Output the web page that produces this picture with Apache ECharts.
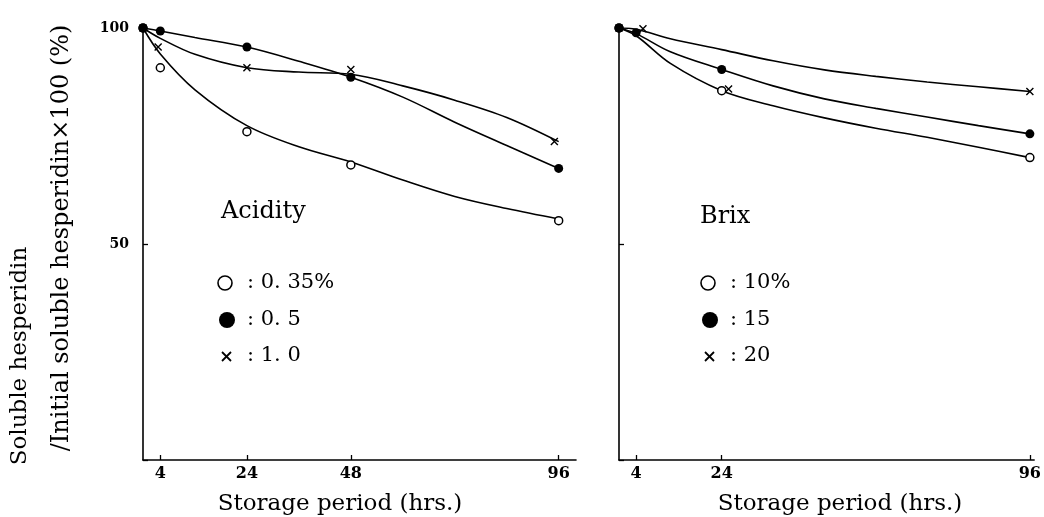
<!DOCTYPE html>
<html>
<head>
<meta charset="utf-8">
<script src="https://cdn.jsdelivr.net/npm/echarts@6/dist/echarts.min.js"></script>
<style>html,body{margin:0;padding:0;background:#fff}#c{width:1044px;height:517px}</style>
</head>
<body>
<div id="c"></div>
<script>
// ---------- data ----------
const curveHours = [0, 4, 12, 24, 36, 48, 60, 72, 84, 96];
// Acidity panel – fitted curves
const acid035Curve = [100, 94.0, 85.7, 77.4, 72.5, 69.0, 64.8, 61.0, 58.2, 55.8];
const acid05Curve  = [100, 99.3, 97.8, 95.6, 92.3, 88.6, 84.0, 78.2, 72.8, 67.5];
const acid10Curve  = [100, 97.6, 93.9, 90.8, 89.8, 89.3, 86.6, 83.3, 79.3, 73.7];
// Acidity panel – measured points
const acidHours  = [0, 4, 24, 48, 96];
const acid035Pts = [100, 90.8, 76.0, 68.3, 55.4];
const acid05Pts  = [100, 99.3, 95.6, 88.6, 67.5];
const acid10Hours = [0, 3.5, 24, 48, 95];
const acid10Pts  = [100, 95.6, 90.8, 90.4, 73.7];
// Brix panel – fitted curves
const brix10Curve = [100, 98.2, 91.8, 85.5, 82.0, 79.2, 76.8, 74.7, 72.4, 70.0];
const brix15Curve = [100, 98.7, 94.5, 90.4, 86.6, 83.6, 81.4, 79.4, 77.4, 75.5];
const brix20Curve = [100, 99.7, 97.5, 95.0, 92.4, 90.3, 88.8, 87.5, 86.4, 85.3];
// Brix panel – measured points
const brix10Hours = [0, 4.4, 24, 96];
const brix10Pts   = [100, 100.2, 85.5, 70.0];
const brix15Hours = [0, 4, 24, 96];
const brix15Pts   = [100, 98.9, 90.4, 75.5];
const brix20Hours = [0, 5.6, 25.6, 96];
const brix20Pts   = [100, 99.8, 85.9, 85.3];
// axis ticks
const acidTicks = [4, 24, 48, 96];
const brixTicks = [4, 24, 96];
const yTicks = [0, 50, 100];
// texts
const xTitle = 'Storage period (hrs.)';
const yTitle1 = 'Soluble hesperidin';
const yTitle2 = '/Initial soluble hesperidin\u00d7100 (%)';
const acidLegend = [': 0. 35%', ': 0. 5', ': 1. 0'];
const brixLegend = [': 10%', ': 15', ': 20'];

// ---------- chart ----------
const SERIF = '"DejaVu Serif", "Liberation Serif", serif';
const pair = (xs, ys) => xs.map((x, i) => [x, ys[i]]);
const CROSS = 'path://M0,0L10,10M0,10L10,0';

function xAxis(idx, max, ticks) {
  return {
    type: 'value', gridIndex: idx, min: 0, max: max,
    axisLine: { show: true, onZero: false, lineStyle: { color: '#000', width: 1.6 } },
    axisTick: { show: true, inside: true, length: 5, customValues: ticks, lineStyle: { color: '#000', width: 1.3 } },
    axisLabel: { show: true, customValues: ticks, margin: 6, color: '#000', fontFamily: SERIF, fontWeight: 'bold', fontSize: 16 },
    splitLine: { show: false }
  };
}
function yAxis(idx, showLabel) {
  return {
    type: 'value', gridIndex: idx, min: 0, max: 100, interval: 50,
    axisLine: { show: true, onZero: false, lineStyle: { color: '#000', width: 1.6 } },
    axisTick: { show: true, inside: true, length: 5, lineStyle: { color: '#000', width: 1.3 } },
    axisLabel: { show: showLabel, margin: 14, color: '#000', fontFamily: SERIF, fontWeight: 'bold', fontSize: 14,
      formatter: v => (v === 0 ? '' : String(v)) },
    splitLine: { show: false }
  };
}
function curve(idx, vals) {
  return {
    type: 'line', xAxisIndex: idx, yAxisIndex: idx, data: pair(curveHours, vals),
    smooth: 0.35, showSymbol: false, silent: true, z: 2,
    lineStyle: { color: '#000', width: 1.6 }
  };
}
function pts(idx, xs, ys, kind) {
  const s = { type: 'scatter', xAxisIndex: idx, yAxisIndex: idx, data: pair(xs, ys), z: 5, silent: true };
  if (kind === 'open') { s.symbol = 'circle'; s.symbolSize = 8; s.itemStyle = { color: '#fff', borderColor: '#000', borderWidth: 1.5, opacity: 1 }; }
  if (kind === 'fill') { s.symbol = 'circle'; s.symbolSize = 9; s.itemStyle = { color: '#000', opacity: 1 }; }
  if (kind === 'cross') { s.symbol = CROSS; s.symbolSize = 7; s.itemStyle = { color: 'rgba(0,0,0,0)', borderColor: '#000', borderWidth: 1.4, opacity: 1 }; }
  return s;
}
function legendGraphics(x0, textX, labels) {
  const g = [];
  g.push({ type: 'circle', shape: { cx: x0, cy: 283, r: 7 }, style: { fill: '#fff', stroke: '#000', lineWidth: 1.6 } });
  g.push({ type: 'circle', shape: { cx: x0 + 2, cy: 320, r: 8 }, style: { fill: '#000' } });
  g.push({ type: 'line', shape: { x1: x0 - 3, y1: 352, x2: x0 + 6, y2: 361 }, style: { stroke: '#000', lineWidth: 1.8 } });
  g.push({ type: 'line', shape: { x1: x0 - 3, y1: 361, x2: x0 + 6, y2: 352 }, style: { stroke: '#000', lineWidth: 1.8 } });
  [283, 320, 356].forEach((y, i) => g.push({ type: 'text', x: textX, y: y,
    style: { text: labels[i], font: '21px ' + SERIF, fill: '#000', textAlign: 'left', textVerticalAlign: 'middle' } }));
  return g;
}

const chart = echarts.init(document.getElementById('c'), null, { renderer: 'canvas' });
chart.setOption({
  animation: false,
  backgroundColor: '#fff',
  grid: [
    { left: 143, top: 28, width: 433, height: 432 },
    { left: 619, top: 28, width: 419, height: 432 }
  ],
  xAxis: [xAxis(0, 100, acidTicks), xAxis(1, 97, brixTicks)],
  yAxis: [yAxis(0, true), yAxis(1, false)],
  series: [
    curve(0, acid035Curve), curve(0, acid05Curve), curve(0, acid10Curve),
    pts(0, acidHours, acid035Pts, 'open'), pts(0, acidHours, acid05Pts, 'fill'), pts(0, acid10Hours, acid10Pts, 'cross'),
    curve(1, brix10Curve), curve(1, brix15Curve), curve(1, brix20Curve),
    pts(1, brix10Hours, brix10Pts, 'open'), pts(1, brix15Hours, brix15Pts, 'fill'), pts(1, brix20Hours, brix20Pts, 'cross')
  ],
  graphic: [
    { type: 'text', x: 340, y: 504, style: { text: xTitle, font: '23px ' + SERIF, fill: '#000', textAlign: 'center', textVerticalAlign: 'middle' } },
    { type: 'text', x: 840, y: 504, style: { text: xTitle, font: '23px ' + SERIF, fill: '#000', textAlign: 'center', textVerticalAlign: 'middle' } },
    { type: 'text', x: 20, y: 356, rotation: Math.PI / 2, style: { text: yTitle1, font: '23px ' + SERIF, fill: '#000', textAlign: 'center', textVerticalAlign: 'middle' } },
    { type: 'text', x: 62, y: 238, rotation: Math.PI / 2, style: { text: yTitle2, font: '24px ' + SERIF, fill: '#000', textAlign: 'center', textVerticalAlign: 'middle' } },
    { type: 'text', x: 221, y: 212, style: { text: 'Acidity', font: '24px ' + SERIF, fill: '#000', textAlign: 'left', textVerticalAlign: 'middle' } },
    { type: 'text', x: 700, y: 217, style: { text: 'Brix', font: '24px ' + SERIF, fill: '#000', textAlign: 'left', textVerticalAlign: 'middle' } }
  ].concat(legendGraphics(225, 247, acidLegend), legendGraphics(708, 730, brixLegend))
});
</script>
</body>
</html>
